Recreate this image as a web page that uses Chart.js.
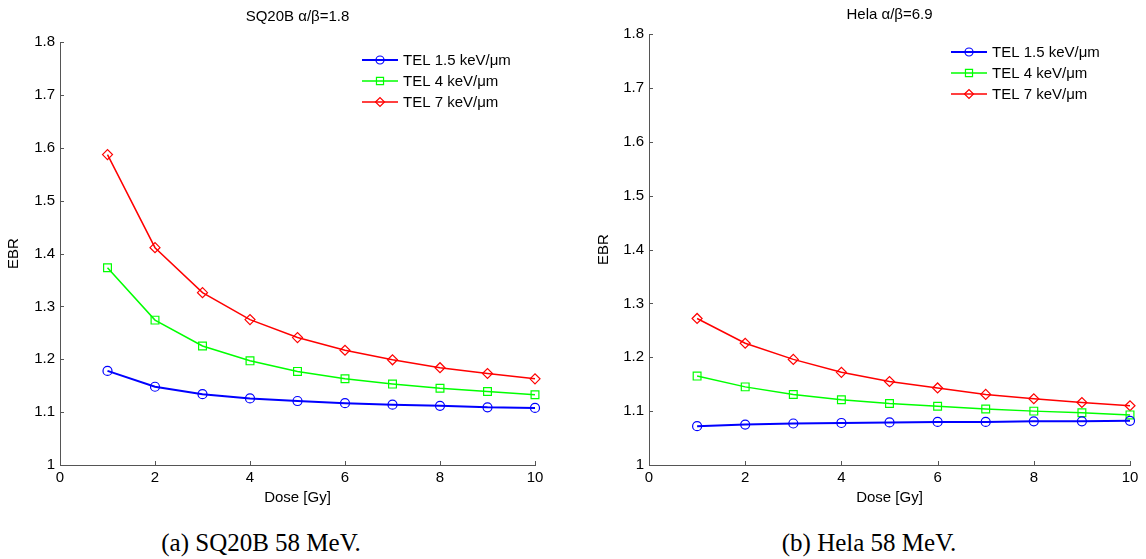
<!DOCTYPE html>
<html>
<head>
<meta charset="utf-8">
<title>EBR vs Dose</title>
<script src="https://cdn.jsdelivr.net/npm/chart.js@4.4.1/dist/chart.umd.min.js"></script>
<style>
  html, body { margin: 0; padding: 0; background: #fff; }
  body { width: 1146px; height: 559px; position: relative; overflow: hidden; }
  canvas { position: absolute; top: 0; }
  #cvA { left: 0; }
  #cvB { left: 573px; }
  .cap {
    position: absolute; top: 529px;
    font-family: 'Liberation Serif', 'Times New Roman', serif;
    font-size: 25px; color: #000; white-space: nowrap;
    transform: translateX(-50%);
  }
</style>
</head>
<body>
<canvas id="cvA" width="573" height="520"></canvas>
<canvas id="cvB" width="573" height="520"></canvas>
<div class="cap" style="left:261px">(a) SQ20B 58 MeV.</div>
<div class="cap" style="left:869px">(b) Hela 58 MeV.</div>

<script>
// ── 데이터 ──────────────────────────────────────────────
const doses = [1, 2, 3, 4, 5, 6, 7, 8, 9, 10];

// SQ20B α/β=1.8
const sq20bTel15 = [1.178, 1.148, 1.134, 1.126, 1.121, 1.117, 1.114, 1.112, 1.109, 1.108];
const sq20bTel4  = [1.373, 1.274, 1.225, 1.197, 1.177, 1.163, 1.153, 1.145, 1.139, 1.133];
const sq20bTel7  = [1.587, 1.411, 1.326, 1.275, 1.241, 1.217, 1.199, 1.184, 1.173, 1.163];

// Hela α/β=6.9
const helaTel15 = [1.072, 1.075, 1.077, 1.078, 1.079, 1.080, 1.080, 1.081, 1.081, 1.082];
const helaTel4  = [1.165, 1.145, 1.131, 1.121, 1.114, 1.109, 1.104, 1.100, 1.097, 1.093];
const helaTel7  = [1.272, 1.226, 1.196, 1.172, 1.155, 1.143, 1.131, 1.123, 1.116, 1.110];

const seriesLabels = ['TEL 1.5 keV/\u03bcm', 'TEL 4 keV/\u03bcm', 'TEL 7 keV/\u03bcm'];
const xTickValues  = [0, 2, 4, 6, 8, 10];
const yTickValues  = [1, 1.1, 1.2, 1.3, 1.4, 1.5, 1.6, 1.7, 1.8];

// 스타일
const SERIES_STYLE = [
    { color: '#0000ff', pointStyle: 'circle',  radius: 4.5, width: 2 },
    { color: '#00ff00', pointStyle: 'rect',    radius: 5.5, width: 1.5 },
    { color: '#ff0000', pointStyle: 'rectRot', radius: 5,   width: 1.5 },
];
const AXIS_COLOR = '#555555';
const FONT = "'Liberation Sans', Arial, sans-serif";

Chart.defaults.font.family = FONT;
Chart.defaults.font.size   = 15;
Chart.defaults.color       = '#000';

// MATLAB식 안쪽 눈금
const innerTicks = {
    id: 'innerTicks',
    afterDraw(chart) {
        const { ctx, chartArea, scales } = chart;
        ctx.save();
        ctx.strokeStyle = AXIS_COLOR;
        ctx.lineWidth = 1;
        ctx.beginPath();
        xTickValues.forEach(v => {
            const px = Math.round(scales.x.getPixelForValue(v)) + 0.5;
            ctx.moveTo(px, chartArea.bottom);
            ctx.lineTo(px, chartArea.bottom - 4);
        });
        yTickValues.forEach(v => {
            const py = Math.round(scales.y.getPixelForValue(v)) + 0.5;
            ctx.moveTo(chartArea.left, py);
            ctx.lineTo(chartArea.left + 4, py);
        });
        ctx.stroke();
        ctx.restore();
    }
};

// 선+마커 범례 (plot 안쪽 오른쪽 위)
const lineLegend = {
    id: 'lineLegend',
    afterDraw(chart, args, opts) {
        const { ctx, chartArea } = chart;
        const x0 = chartArea.left + opts.dx;
        ctx.save();
        chart.data.datasets.forEach((ds, i) => {
            const y = chartArea.top + opts.rows[i];
            ctx.strokeStyle = ds.borderColor;
            ctx.lineWidth = ds.borderWidth;
            ctx.beginPath();
            ctx.moveTo(x0, y);
            ctx.lineTo(x0 + 36, y);
            ctx.stroke();
            ctx.fillStyle = 'rgba(0,0,0,0)';
            ctx.lineWidth = 1.2;
            Chart.helpers.drawPoint(ctx, {
                pointStyle: ds.pointStyle, radius: ds.pointRadius - 0.5,
                rotation: 0, borderWidth: 1.2
            }, x0 + 18, y);
            ctx.fillStyle = '#000';
            ctx.font = '15px ' + FONT;
            ctx.textBaseline = 'middle';
            ctx.textAlign = 'left';
            ctx.fillText(ds.label, x0 + 41, y + 1);
        });
        ctx.restore();
    }
};

function makeDatasets(lists) {
    return lists.map((vals, i) => ({
        label: seriesLabels[i],
        data: doses.map((d, k) => ({ x: d, y: vals[k] })),
        borderColor: SERIES_STYLE[i].color,
        backgroundColor: 'transparent',
        borderWidth: SERIES_STYLE[i].width,
        pointStyle: SERIES_STYLE[i].pointStyle,
        pointRadius: SERIES_STYLE[i].radius,
        pointBorderWidth: 1.2,
        pointBackgroundColor: 'transparent',
        pointBorderColor: SERIES_STYLE[i].color,
        tension: 0,
        clip: false,
    }));
}

function makeChart(canvasId, cfg) {
    return new Chart(document.getElementById(canvasId), {
        type: 'line',
        data: { datasets: makeDatasets(cfg.series) },
        options: {
            responsive: false,
            animation: false,
            layout: { padding: { left: 0, right: cfg.padRight, top: 0, bottom: 13 } },
            plugins: {
                legend: { display: false },
                tooltip: { enabled: false },
                title: {
                    display: true,
                    text: cfg.title,
                    fullSize: false,
                    font: { size: 15, weight: 'normal' },
                    padding: cfg.titlePad,
                },
                lineLegend: { dx: 302, rows: [18, 39, 60] },
            },
            scales: {
                x: {
                    type: 'linear',
                    min: 0, max: 10,
                    afterBuildTicks: s => { s.ticks = xTickValues.map(v => ({ value: v })); },
                    afterFit: s => { s.height = 42; },
                    grid: { display: false, drawTicks: false },
                    border: { display: true, color: AXIS_COLOR, width: 1 },
                    ticks: { padding: 4, maxRotation: 0, font: { size: 15 } },
                    title: { display: true, text: 'Dose [Gy]', font: { size: 15 }, padding: { top: 0, bottom: 0 } },
                },
                y: {
                    type: 'linear',
                    min: 1, max: 1.8,
                    afterBuildTicks: s => { s.ticks = yTickValues.map(v => ({ value: v })); },
                    afterFit: s => { s.width = cfg.yWidth; },
                    grid: { display: false, drawTicks: false },
                    border: { display: true, color: AXIS_COLOR, width: 1 },
                    ticks: {
                        padding: 5,
                        font: { size: 15 },
                        callback: v => String(Math.round(v * 10) / 10),
                    },
                    title: { display: true, text: 'EBR', font: { size: 15 }, padding: { top: cfg.ebrPad, bottom: 0 } },
                },
            },
        },
        plugins: [innerTicks, lineLegend],
    });
}

makeChart('cvA', {
    title: 'SQ20B \u03b1/\u03b2=1.8',
    series: [sq20bTel15, sq20bTel4, sq20bTel7],
    padRight: 38,
    yWidth: 60,
    ebrPad: 5,
    titlePad: { top: 8, bottom: 16 },
});

makeChart('cvB', {
    title: 'Hela \u03b1/\u03b2=6.9',
    series: [helaTel15, helaTel4, helaTel7],
    padRight: 16,
    yWidth: 76,
    ebrPad: 22,
    titlePad: { top: 6, bottom: 10 },
});
</script>
</body>
</html>
